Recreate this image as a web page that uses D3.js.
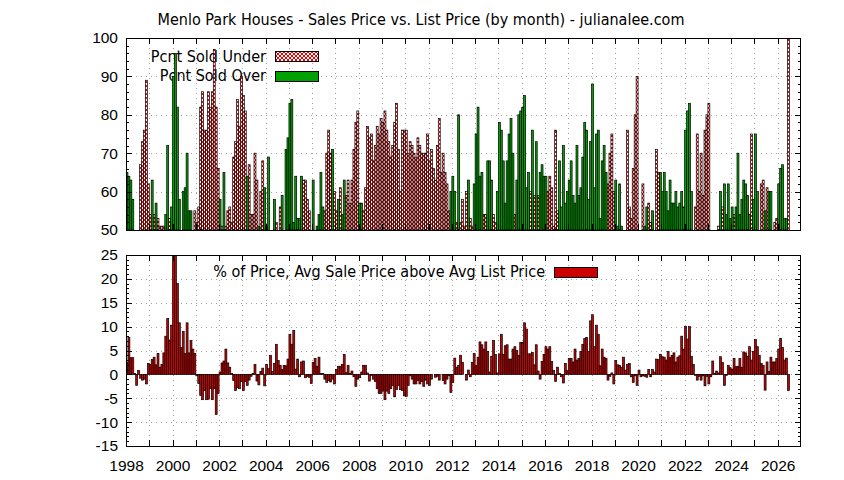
<!DOCTYPE html>
<html>
<head>
<meta charset="utf-8">
<script src="https://cdn.jsdelivr.net/npm/d3@7"></script>
<style>
  body { margin: 0; background: #ffffff; }
  svg { display: block; font-family: 'DejaVu Sans Condensed', 'DejaVu Sans', sans-serif; }
  .tick text { font-size: 15.5px; fill: #000; }
</style>
</head>
<body>
<div id="graf"></div>
<script>
// !DATOS (one value per month, Jan 1998 onwards; _ = below the 50% floor, no bar)
const _ = null

const soldUnder = [
  _,_,_,_,_,_,_,67,73,76,89,62,54,_,54,_,53,51,51,51,_,_,53,_,
  _,_,_,_,_,_,_,_,_,_,_,55,52,56,82,86,76,76,86,82,86,97,82,66,
  _,51,_,51,55,56,52,69,73,84,77,90,85,81,_,67,54,54,70,63,_,60,68,_,
  _,_,_,_,_,52,_,56,_,_,_,_,_,_,_,_,_,_,_,63,63,58,55,_,
  _,_,_,_,_,_,55,70,76,70,_,60,55,_,61,_,_,59,63,57,63,71,78,81,
  _,_,55,61,77,74,75,68,72,77,75,79,78,81,76,73,69,72,78,83,71,60,76,76,
  76,70,73,72,70,69,74,72,70,70,70,75,68,71,66,63,72,79,65,70,65,62,55,_,
  _,_,52,_,52,58,51,60,_,53,51,_,_,_,_,_,54,54,_,_,_,54,52,_,
  _,_,_,_,_,_,_,_,54,_,_,_,_,_,_,_,60,_,59,_,59,_,_,_,
  _,60,64,61,51,76,55,_,_,_,_,_,_,_,_,_,_,_,_,_,_,_,_,_,
  _,_,_,_,_,_,_,_,62,70,75,60,_,_,_,_,_,_,76,56,53,66,80,90,
  _,_,62,_,_,57,52,_,_,71,65,_,_,_,_,_,_,_,_,_,_,_,_,_,
  _,_,_,_,_,56,75,60,70,59,76,80,83,_,_,_,_,51,_,56,_,_,_,_,
  _,54,_,_,_,_,_,_,_,_,75,_,_,_,_,62,63,_,61,_,_,_,52,53,
  _,_,_,_,_,100
]

const soldOver = [
  65,64,63,58,_,_,_,_,_,_,_,_,_,63,_,57,_,_,_,_,54,72,_,56,
  90,96,82,58,_,60,61,70,55,55,_,_,_,_,_,_,_,_,_,_,_,_,_,_,
  58,_,65,_,_,_,_,_,_,_,_,_,_,_,64,_,_,_,_,_,51,_,_,61,
  51,69,_,_,58,_,_,_,59,_,71,74,83,84,52,64,53,53,64,_,_,_,_,_,
  63,_,51,54,65,56,_,_,_,_,71,_,_,58,_,54,63,_,_,_,_,_,_,_,
  57,57,_,_,_,_,_,_,_,_,_,_,_,_,_,_,_,_,_,_,_,_,_,_,
  _,_,_,_,_,_,_,_,_,_,_,_,_,_,_,_,_,_,_,_,_,_,_,60,
  64,60,_,80,_,_,_,_,63,_,_,62,75,82,64,65,_,_,68,68,63,_,_,60,
  78,76,68,57,68,75,79,70,_,63,80,81,82,85,61,65,_,76,_,73,_,65,67,64,
  64,_,_,_,_,_,_,68,56,72,57,60,63,68,59,57,72,59,61,69,78,76,58,73,
  88,61,75,76,53,68,72,65,_,_,_,_,63,51,62,51,_,_,_,_,_,_,_,_,
  _,_,_,51,56,_,_,55,_,_,_,65,60,65,60,55,63,57,57,60,56,57,60,56,
  76,81,83,60,_,_,_,_,_,_,_,_,_,_,_,_,_,_,60,_,62,54,62,53,
  56,_,56,70,54,58,63,62,59,54,_,58,75,60,_,_,_,55,_,60,60,_,_,_,
  62,66,67,53,53,_
]

const priceDiff = [
  2.5,7.7,3.5,3.5,0.2,-2.3,0.8,-0.8,-1.2,-1.0,-2.0,2.3,2.1,3.1,3.6,2.0,4.4,1.5,2.1,4.5,8.0,11.7,7.2,10.3,
  27,29,19,10.8,5.6,9,4.4,10.8,4.5,7.1,5.3,4.4,-0.3,-1.9,-4.4,-5.3,-3.4,-5.3,-5.2,-3.0,-5.3,-3.0,-8.4,-4.0,
  0.5,2.4,2.8,5.3,2.4,1.5,0.2,-1.3,-3.4,-2.8,-3.0,-1.5,-3.4,-1.5,-2.3,-1.2,-0.4,0.2,2.1,-1.4,-2.2,0.6,1.3,-2.4,
  2.1,1.2,4.0,0.6,2.3,6.3,2.9,1.9,1.0,1.9,1.8,3.2,8.4,6.3,9.2,1.1,3.2,-0.5,2.6,2.8,-0.7,-0.4,-0.6,-1.9,
  2.5,3.3,1.7,3.6,0.2,0.2,-1.0,-1.7,-1.3,-1.6,-1.0,-2.0,1.0,1.7,1.7,2.1,4.2,0.4,1.9,0.2,0.7,-0.5,-2.5,-1.0,
  -0.7,0.5,1.9,1.9,0.3,-1.4,-0.2,-1.0,-1.5,-3.0,-4.0,-4.0,-3.5,-5.3,-3.5,-4.0,-3.0,-2.3,-4.7,-3.2,-2.3,-3.2,-3.4,-4.5,
  -4.6,-2.3,-0.3,-1.0,-2.0,-2.0,-1.3,-2.0,-1.5,-2.5,-1.2,-2.0,-2.3,-1.0,0.0,-0.6,-0.4,-1.2,0.0,-1.3,-2.0,-1.0,-0.3,-3.8,
  -1.7,3.4,1.5,1.9,4.0,2.5,0.0,-1.2,0.9,-0.5,2.5,4.4,1.9,3.6,6.8,6.2,5.3,6.8,4.8,0.5,3.8,7.1,4.2,0.3,
  4.3,8.4,4.2,6.0,6.2,3.2,3.2,5.3,5.8,5.0,4.0,6.7,6.7,10.8,9.5,4.3,4.3,4.6,2.0,6.2,0.7,-1.0,2.7,4.2,
  5.8,5.3,5.8,2.7,0.8,-1.5,1.5,0.2,-0.5,-1.8,2.3,0.8,3.3,3.3,2.6,5.3,3.0,3.3,4.8,6.3,7.5,7.7,4.8,11.2,
  12.5,5.8,10.3,8.4,1.8,5.3,3.6,3.3,-1.2,-0.4,0.3,-2.0,2.9,2.0,1.9,1.5,3.6,0.9,2.1,2.3,-0.5,-1.7,-0.3,-2.3,
  0.9,-0.5,-0.3,-0.4,-0.6,1.0,-0.5,1.0,0.5,3.2,3.1,4.2,3.7,3.6,3.0,4.8,3.5,4.0,4.5,2.6,3.6,3.9,8.0,5.3,
  10.0,7.4,10.0,3.8,2.1,-0.2,-1.2,-0.4,-1.2,-0.3,-2.4,-0.4,-2.0,-0.5,2.8,0.2,0.7,0.3,3.7,2.5,-2.3,-0.2,1.9,1.4,
  1.1,3.3,1.6,1.7,3.3,1.5,4.7,4.5,3.8,5.8,3.0,4.8,7.3,5.8,4.0,2.3,1.9,-3.3,2.6,0.6,3.6,2.6,2.6,3.3,
  5.3,7.5,5.6,3.0,3.4,-3.4
]

const firstYear = 1998
const lastYear = 2027
const topTicks = [50, 60, 70, 80, 90, 100]
const bottomTicks = [-15, -10, -5, 0, 5, 10, 15, 20, 25]
const yearLabels = d3.range(1998, 2027, 2)

const titulo = 'Menlo Park Houses - Sales Price vs. List Price (by month) - julianalee.com'
const keyUnder = 'Pcnt Sold Under'
const keyOver = 'Pcnt Sold Over'
const keyDiff = '% of Price, Avg Sale Price above Avg List Price'

const rojo = '#cc0000'
const verde = '#00a000'

// !LIENZO
const anchoTotal = 844
const altoTotal = 480

const svg = d3
  .select('#graf')
  .append('svg')
  .attr('width', anchoTotal)
  .attr('height', altoTotal)

const margin = { left: 126, right: 43 }
const panelTop = { top: 38, bottom: 230 }
const panelBot = { top: 255, bottom: 446 }

// !ESCALADORES
const x = d3.scaleLinear().domain([firstYear, lastYear]).range([margin.left, anchoTotal - margin.right])
const yTop = d3.scaleLinear().domain([50, 100]).range([panelTop.bottom, panelTop.top])
const yBot = d3.scaleLinear().domain([-15, 25]).range([panelBot.bottom, panelBot.top])

const monthStart = (i) => firstYear + i / 12

// !PATRON (red crosshatch)
const defs = svg.append('defs')
const pat = defs
  .append('pattern')
  .attr('id', 'cruz')
  .attr('patternUnits', 'userSpaceOnUse')
  .attr('width', 4)
  .attr('height', 4)
pat.append('rect').attr('width', 4).attr('height', 4).attr('fill', '#ffffff')
d3.range(4).forEach((k) => {
  pat.append('rect').attr('x', k).attr('y', k).attr('width', 1).attr('height', 1).attr('fill', '#ee0000')
  pat.append('rect').attr('x', 3 - k).attr('y', k).attr('width', 1).attr('height', 1).attr('fill', '#ee0000')
})

function clip(id, panel) {
  defs
    .append('clipPath')
    .attr('id', id)
    .append('rect')
    .attr('x', x.range()[0])
    .attr('y', panel.top)
    .attr('width', x.range()[1] - x.range()[0])
    .attr('height', panel.bottom - panel.top)
}
clip('clipTop', panelTop)
clip('clipBot', panelBot)

// !TITULO
svg
  .append('text')
  .attr('x', 421)
  .attr('y', 25)
  .attr('text-anchor', 'middle')
  .style('font-size', '16px')
  .text(titulo)

// !REJILLA
function grid(panel, yScale, yValues) {
  const g = svg.append('g').attr('stroke', '#a0a0a0').attr('stroke-dasharray', '1,4')
  g.selectAll('line.v')
    .data(d3.range(firstYear + 1, lastYear))
    .join('line')
    .attr('x1', (d) => Math.round(x(d)) + 0.5)
    .attr('x2', (d) => Math.round(x(d)) + 0.5)
    .attr('y1', panel.top)
    .attr('y2', panel.bottom)
  g.selectAll('line.h')
    .data(yValues)
    .join('line')
    .attr('x1', x.range()[0])
    .attr('x2', x.range()[1])
    .attr('y1', (d) => Math.round(yScale(d)) + 0.5)
    .attr('y2', (d) => Math.round(yScale(d)) + 0.5)
}
grid(panelTop, yTop, [60, 70, 80, 90])
grid(panelBot, yBot, [-10, -5, 0, 5, 10, 15, 20])

// !LEYENDAS
function keyEntry(label, xRight, yMid, fill) {
  svg
    .append('text')
    .attr('x', xRight)
    .attr('y', yMid)
    .attr('dy', '0.35em')
    .attr('text-anchor', 'end')
    .style('font-size', '16px')
    .text(label)
  svg
    .append('rect')
    .attr('x', xRight + 9.5)
    .attr('y', Math.round(yMid - 5) + 0.5)
    .attr('width', 43)
    .attr('height', 10)
    .attr('fill', fill)
    .attr('stroke', '#000')
    .attr('shape-rendering', 'crispEdges')
}
keyEntry(keyUnder, 266, 56, 'url(#cruz)')
keyEntry(keyOver, 266, 75.5, verde)
keyEntry(keyDiff, 545, 271.5, rojo)

// !BARRAS
function barras(values, yScale, base, fill, clipId) {
  const items = values
    .map((v, i) => ({ v, t0: monthStart(i), t1: monthStart(i + 1) }))
    .filter((d) => d.v !== null && d.v !== base)
  svg
    .append('g')
    .attr('clip-path', `url(#${clipId})`)
    .selectAll('rect')
    .data(items)
    .join('rect')
    .attr('x', (d) => x(d.t0))
    .attr('width', (d) => x(d.t1) - x(d.t0))
    .attr('y', (d) => Math.min(yScale(d.v), yScale(base)))
    .attr('height', (d) => Math.abs(yScale(d.v) - yScale(base)))
    .attr('fill', fill)
    .attr('stroke', '#000')
    .attr('stroke-width', 0.7)
}
barras(soldUnder, yTop, 50, 'url(#cruz)', 'clipTop')
barras(soldOver, yTop, 50, verde, 'clipTop')
barras(priceDiff, yBot, 0, rojo, 'clipBot')

// !EJES
function ejes(panel, yScale, majors, minorStep, xLabels) {
  const [y0, y1] = yScale.domain()
  const minors = d3.range(y0, y1 + 0.001, minorStep)
  const left = x.range()[0]
  const right = x.range()[1]

  const deco = (sel) => sel.call((s) => s.select('.domain').remove())

  svg.append('g')
    .attr('transform', `translate(${left},0)`)
    .call(d3.axisLeft(yScale).tickValues(minors).tickSizeInner(-3).tickSizeOuter(0).tickFormat(''))
    .call(deco)
  svg.append('g')
    .attr('transform', `translate(${right},0)`)
    .call(d3.axisRight(yScale).tickValues(minors).tickSizeInner(-3).tickSizeOuter(0).tickFormat(''))
    .call(deco)
  svg.append('g')
    .attr('transform', `translate(${left},0)`)
    .call(
      d3.axisLeft(yScale)
        .tickValues(majors)
        .tickSizeInner(-6)
        .tickSizeOuter(0)
        .tickPadding(8)
        .tickFormat((d) => String(d))
    )
    .call(deco)
  svg.append('g')
    .attr('transform', `translate(${right},0)`)
    .call(d3.axisRight(yScale).tickValues(majors).tickSizeInner(-6).tickSizeOuter(0).tickFormat(''))
    .call(deco)

  const years = d3.range(firstYear + 1, lastYear)
  svg.append('g')
    .attr('transform', `translate(0,${panel.top})`)
    .call(d3.axisTop(x).tickValues(years).tickSizeInner(-6).tickSizeOuter(0).tickFormat(''))
    .call(deco)
  svg.append('g')
    .attr('transform', `translate(0,${panel.bottom})`)
    .call(
      d3.axisBottom(x)
        .tickValues(xLabels ? d3.range(firstYear, lastYear) : years)
        .tickSizeInner(-6)
        .tickSizeOuter(0)
        .tickPadding(14)
        .tickFormat((d) => (xLabels && yearLabels.includes(d) ? String(d) : ''))
    )
    .call(deco)

  svg.append('rect')
    .attr('x', left + 0.5)
    .attr('y', panel.top + 0.5)
    .attr('width', right - left - 1)
    .attr('height', panel.bottom - panel.top)
    .attr('fill', 'none')
    .attr('stroke', '#000')
    .attr('shape-rendering', 'crispEdges')
}
ejes(panelTop, yTop, topTicks, 2, false)
ejes(panelBot, yBot, bottomTicks, 1, true)

svg.selectAll('.tick line').attr('stroke', '#000').attr('shape-rendering', 'crispEdges')
svg.selectAll('.tick text').attr('font-family', null)
</script>
</body>
</html>
